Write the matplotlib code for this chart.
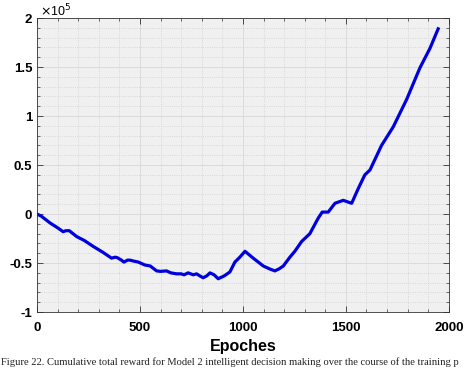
import matplotlib
matplotlib.use("Agg")
import matplotlib.pyplot as plt
from matplotlib.ticker import MultipleLocator

# datos (recompensa acumulada, en unidades de 1e5)
epochs = [0, 20, 63, 100, 127, 140, 157, 175, 193, 230, 273, 320, 362, 380, 390,
          410, 422, 440, 451, 470, 492, 524, 550, 581, 600, 629, 650, 678, 700,
          714, 734, 759, 775, 790, 807, 825, 840, 860, 880, 910, 937, 961, 985,
          1010, 1050, 1099, 1130, 1155, 1175, 1196, 1228, 1252, 1285, 1325, 1366,
          1385, 1414, 1447, 1487, 1528, 1560, 1592, 1617, 1673, 1730, 1795, 1859,
          1908, 1948]
reward = [0, -0.02, -0.09, -0.14, -0.18, -0.17, -0.17, -0.20, -0.23, -0.27, -0.33,
          -0.39, -0.45, -0.44, -0.445, -0.47, -0.49, -0.47, -0.47, -0.48, -0.49,
          -0.52, -0.53, -0.58, -0.585, -0.58, -0.60, -0.61, -0.61, -0.62, -0.60,
          -0.62, -0.61, -0.63, -0.65, -0.63, -0.60, -0.62, -0.66, -0.63, -0.59,
          -0.49, -0.44, -0.38, -0.45, -0.53, -0.56, -0.58, -0.56, -0.53, -0.44,
          -0.38, -0.28, -0.20, -0.04, 0.02, 0.02, 0.11, 0.14, 0.11, 0.26, 0.40,
          0.45, 0.70, 0.89, 1.17, 1.49, 1.69, 1.89]

xticks = [0, 500, 1000, 1500, 2000]
yticks = [-1, -0.5, 0, 0.5, 1, 1.5, 2]
ytick_labels = ['-1', '-0.5', '0', '0.5', '1', '1.5', '2']

caption = ('Figure 22. Cumulative total reward for Model 2 intelligent decision '
           'making over the course of the training p')

plt.rcParams['font.family'] = 'Liberation Sans'
plt.rcParams['axes.unicode_minus'] = False

fig = plt.figure(figsize=(4.74, 3.68), dpi=100)
ax = fig.add_axes([0.078, 0.152, 0.869, 0.799])
ax.set_facecolor('#f0f0f0')

ax.plot(epochs, reward, color='#0000dd', linewidth=2.3)

ax.set_xlim(0, 2000)
ax.set_ylim(-1, 2)
ax.set_xticks(xticks)
ax.set_xticklabels([str(t) for t in xticks])
ax.set_yticks(yticks)
ax.set_yticklabels(ytick_labels)
ax.xaxis.set_minor_locator(MultipleLocator(100))
ax.yaxis.set_minor_locator(MultipleLocator(0.1))

ax.grid(which='major', color='#d8d8d8', linestyle='-', linewidth=0.6)
ax.grid(which='minor', color='#d0d0d0', linestyle=':', linewidth=0.6)
ax.set_axisbelow(True)

ax.tick_params(which='both', direction='in', top=True, right=True, colors='#333333')
ax.tick_params(which='major', length=4, width=0.6)
ax.tick_params(which='minor', length=2, width=0.5)
ax.tick_params(axis='x', pad=7.5)
ax.tick_params(axis='y', pad=3.4)
for lab in ax.get_xticklabels() + ax.get_yticklabels():
    lab.set_fontweight('bold')
    lab.set_fontsize(9.5)
    lab.set_color('black')
for s in ax.spines.values():
    s.set_color('#333333')
    s.set_linewidth(0.6)

fig.text(0.084, 0.957, r'$\times$10$^5$', fontsize=9, ha='left', va='baseline')
fig.text(0.513, 0.046, 'Epoches', fontsize=11.5, fontweight='bold',
         ha='center', va='baseline')
fig.text(0.003, 0.004, caption, fontsize=7.6, family='Liberation Serif',
         ha='left', va='bottom', color='#222222')

fig.savefig('out.png', dpi=100)
